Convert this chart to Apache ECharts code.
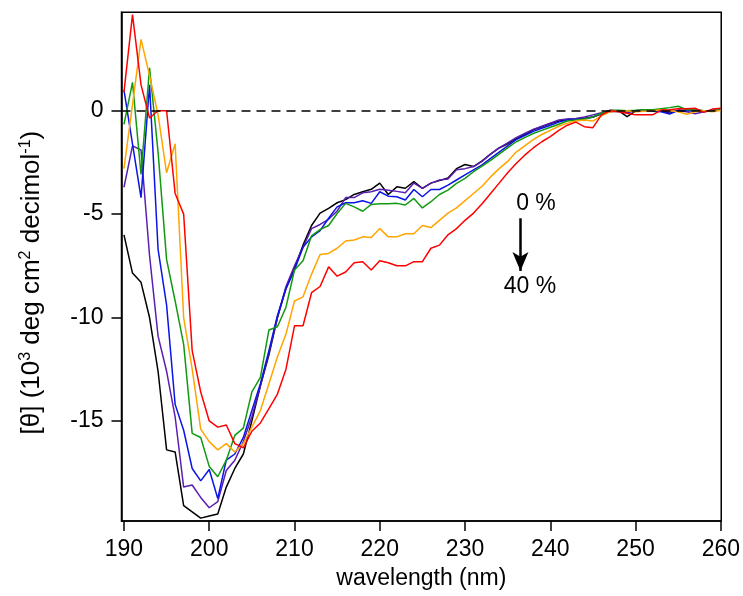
<!DOCTYPE html>
<html>
<head>
<meta charset="utf-8">
<script src="https://cdn.jsdelivr.net/npm/echarts@6/dist/echarts.min.js"></script>
<style>
  html, body { margin: 0; background: #fff; }
  #chart { width: 743px; height: 596px; }
</style>
</head>
<body>
<div id="chart"></div>
<script>
// wavelength grid (nm)
const wavelength = [
  190, 191, 192, 193, 194, 195, 196, 197, 198, 199,
  200, 201, 202, 203, 204, 205, 206, 207, 208, 209,
  210, 211, 212, 213, 214, 215, 216, 217, 218, 219,
  220, 221, 222, 223, 224, 225, 226, 227, 228, 229,
  230, 231, 232, 233, 234, 235, 236, 237, 238, 239,
  240, 241, 242, 243, 244, 245, 246, 247, 248, 249,
  250, 251, 252, 253, 254, 255, 256, 257, 258, 259, 260
];

// mean residue ellipticity, 10^3 deg cm2 decimol-1
const pct0 = [
  -6.0, -7.85, -8.3, -10.0, -12.6, -16.4, -16.5, -19.1, -19.4, -19.7,
  -19.6, -19.5, -18.2, -17.3, -16.6, -15.0, -13.3, -11.8, -10.0, -8.6,
  -7.6, -6.5, -5.55, -4.95, -4.72, -4.45, -4.3, -4.05, -3.92, -3.8,
  -3.5, -4.05, -3.68, -3.75, -3.43, -3.75, -3.5, -3.38, -3.25, -2.8,
  -2.6, -2.7, -2.42, -2.1, -1.8, -1.6, -1.35, -1.15, -0.92, -0.78,
  -0.62, -0.5, -0.42, -0.4, -0.36, -0.3, -0.15, 0.02, 0.0, -0.28,
  -0.02, 0.02, 0.0, 0.02, -0.12, 0.02, 0.0, 0.02, 0.0, -0.02, 0.05
];
const pct8 = [
  -3.7, -1.7, -1.9, -7.0, -10.9, -12.6, -14.8, -18.2, -18.1, -18.7,
  -19.2, -18.9, -17.4, -16.9, -16.0, -14.8, -13.3, -11.7, -10.0, -8.5,
  -7.5, -6.6, -5.7, -5.5, -5.25, -4.85, -4.2, -4.2, -3.97, -3.92,
  -3.8, -3.84, -3.9, -3.97, -3.5, -3.75, -3.5, -3.35, -3.3, -2.85,
  -2.8, -2.7, -2.45, -2.1, -1.8, -1.55, -1.3, -1.1, -0.9, -0.75,
  -0.6, -0.45, -0.4, -0.38, -0.3, -0.2, -0.1, -0.02, 0.0, -0.1,
  0.0, 0.02, 0.0, -0.02, -0.05, 0.0, -0.05, -0.15, -0.05, 0.0, 0.05
];
const pct16 = [
  1.0, -1.6, -4.2, 1.25, -6.7, -9.4, -14.2, -15.45, -17.3, -17.9,
  -17.35, -18.75, -16.9, -16.6, -15.8, -14.5, -13.2, -11.6, -9.9, -8.6,
  -7.7, -6.6, -6.1, -5.8, -5.2, -4.65, -4.45, -4.45, -4.35, -4.48,
  -3.92, -4.13, -4.16, -4.32, -3.81, -4.16, -3.81, -3.81, -3.6, -3.35,
  -3.1, -2.86, -2.62, -2.3, -2.0, -1.7, -1.4, -1.2, -1.0, -0.85,
  -0.7, -0.55, -0.45, -0.42, -0.4, -0.3, -0.15, -0.05, -0.02, -0.05,
  0.0, 0.02, -0.02, -0.05, -0.16, 0.02, 0.0, 0.0, -0.02, 0.02, 0.05
];
const pct24 = [
  -0.66, 1.37, -3.08, 2.08, -2.0, -7.2, -9.2, -11.3, -15.6, -15.8,
  -17.2, -17.7, -16.9, -15.7, -15.35, -13.6, -12.9, -10.6, -10.45, -9.5,
  -7.7, -7.25, -6.05, -5.75, -5.55, -4.97, -4.48, -4.65, -4.86, -4.53,
  -4.5, -4.5, -4.48, -4.56, -4.24, -4.7, -4.4, -4.05, -3.84, -3.51,
  -3.27, -2.95, -2.68, -2.4, -2.1, -1.8, -1.5, -1.3, -1.1, -0.95,
  -0.8, -0.65, -0.5, -0.45, -0.4, -0.3, -0.12, 0.0, 0.02, 0.0,
  0.02, 0.05, 0.05, 0.1, 0.15, 0.22, 0.05, 0.05, 0.0, -0.02, 0.12
];
const pct32 = [
  -2.8, 0.3, 3.45, 1.7, -0.2, -3.0, -1.6, -10.0, -12.5, -15.4,
  -16.0, -16.4, -16.1, -16.5, -16.1, -15.3, -14.5, -13.2, -11.9, -10.8,
  -9.2, -9.0, -7.9, -6.95, -6.9, -6.65, -6.3, -6.25, -6.1, -6.13,
  -5.7, -6.1, -6.1, -5.95, -5.95, -5.55, -5.65, -5.3, -4.95, -4.7,
  -4.35, -4.0, -3.65, -3.2, -2.8, -2.45, -2.0, -1.7, -1.4, -1.15,
  -0.95, -0.75, -0.6, -0.5, -0.45, -0.5, -0.25, -0.05, -0.02, 0.0,
  -0.05, -0.02, 0.0, 0.05, 0.0, -0.05, -0.17, -0.05, 0.0, -0.05, 0.02
];
const pct40 = [
  0.9, 4.65, 1.25, -0.35, 0.0, 0.0, -4.0, -5.0, -11.6, -13.6,
  -15.0, -15.3, -15.2, -16.1, -16.3, -15.5, -15.1, -14.4, -13.7, -12.5,
  -10.4, -10.4, -8.8, -8.5, -7.55, -8.0, -7.8, -7.35, -7.3, -7.7,
  -7.25, -7.35, -7.5, -7.5, -7.3, -7.3, -6.65, -6.5, -6.0, -5.7,
  -5.3, -4.95, -4.5, -4.0, -3.5, -3.0, -2.55, -2.15, -1.8, -1.5,
  -1.25, -0.95, -0.7, -0.55, -0.77, -0.82, -0.2, 0.0, -0.05, -0.12,
  -0.2, -0.2, -0.2, 0.03, 0.05, 0.1, 0.1, 0.12, -0.08, 0.08, 0.12
];

const xTicks = [190, 200, 210, 220, 230, 240, 250, 260];
const yTicks = [-15, -10, -5, 0];

const curves = [
  { name: '0 %', values: pct0, color: '#000000' },
  { name: '8 %', values: pct8, color: '#5a1fb0' },
  { name: '16 %', values: pct16, color: '#0a14e6' },
  { name: '24 %', values: pct24, color: '#119a11' },
  { name: '32 %', values: pct32, color: '#ffa500' },
  { name: '40 %', values: pct40, color: '#ff0000' }
];

const FONT = '"Liberation Sans", Arial, Helvetica, sans-serif';

let chart = echarts.init(document.getElementById('chart'));

let series = curves.map((c) => ({
  name: c.name,
  type: 'line',
  showSymbol: false,
  data: wavelength.map((w, i) => [w, c.values[i]]),
  lineStyle: { color: c.color, width: 1.5 },
  itemStyle: { color: c.color },
  z: 3
}));

// dashed zero line
series[0].markLine = {
  silent: true,
  symbol: 'none',
  label: { show: false },
  lineStyle: { color: '#000', width: 1.5, type: [9, 6] },
  data: [{ yAxis: 0 }]
};
// the 0 % -> 40 % arrow
series[5].markLine = {
  silent: true,
  symbol: ['none', 'arrow'],
  symbolSize: 16,
  label: { show: false },
  itemStyle: { color: '#000' },
  lineStyle: { color: '#000', width: 2.5, type: 'solid' },
  data: [[
    { coord: [236.5, -5.2] },
    { coord: [236.5, -7.75], symbol: 'arrow', symbolSize: [12, 19], itemStyle: { color: '#000' } }
  ]]
};

let option = {
  animation: false,
  backgroundColor: '#fff',
  grid: {
    show: true,
    left: 121.5,
    top: 12.3,
    width: 602,
    height: 508.7,
    borderColor: '#000',
    borderWidth: 1.5
  },
  xAxis: {
    type: 'value',
    min: 189.71,
    max: 260.05,
    name: 'wavelength (nm)',
    nameLocation: 'middle',
    nameGap: 46,
    nameTextStyle: { fontFamily: FONT, fontSize: 23, color: '#000' },
    axisLine: { show: true, onZero: false, lineStyle: { color: '#000', width: 1.5 } },
    axisTick: { show: true, inside: false, length: 10, lineStyle: { color: '#000', width: 1.5 }, customValues: xTicks },
    axisLabel: { fontFamily: FONT, fontSize: 23, color: '#000', margin: 17, customValues: xTicks },
    splitLine: { show: false }
  },
  yAxis: {
    type: 'value',
    min: -19.84,
    max: 4.76,
    name: '[θ] (10{sup|3} deg cm{sup|2} decimol{sup|-1})',
    nameLocation: 'middle',
    nameGap: 76,
    nameRotate: 90,
    nameTextStyle: {
      fontFamily: FONT, fontSize: 26, color: '#000', lineHeight: 28,
      padding: [0, 32, 0, 0],
      rich: {
        sup: { fontFamily: FONT, fontSize: 16, color: '#000', verticalAlign: 'top', lineHeight: 16 }
      }
    },
    axisLine: { show: true, onZero: false, lineStyle: { color: '#000', width: 1.5 } },
    axisTick: { show: true, inside: false, length: 10, lineStyle: { color: '#000', width: 1.5 }, customValues: yTicks },
    axisLabel: { fontFamily: FONT, fontSize: 23, color: '#000', margin: 18, customValues: yTicks },
    splitLine: { show: false }
  },
  graphic: [
    { type: 'text', x: 536, y: 204, style: { text: '0 %', font: '23px ' + FONT, fill: '#000', align: 'center', verticalAlign: 'middle' } },
    { type: 'text', x: 530, y: 287, style: { text: '40 %', font: '23px ' + FONT, fill: '#000', align: 'center', verticalAlign: 'middle' } }
  ],
  series: series
};

chart.setOption(option);
</script>
</body>
</html>
